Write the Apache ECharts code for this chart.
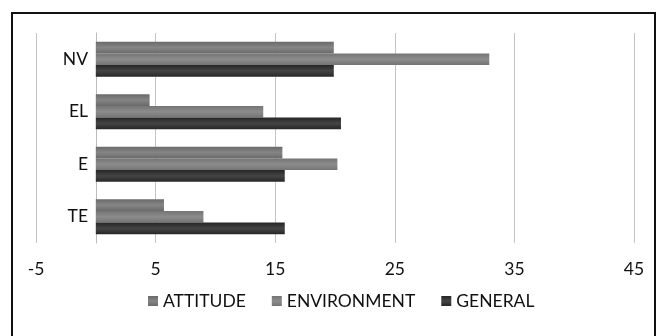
<!DOCTYPE html>
<html>
<head>
<meta charset="utf-8">
<script src="https://cdn.jsdelivr.net/npm/echarts@6/dist/echarts.min.js"></script>
<style>
  html, body { margin: 0; padding: 0; background: #fff; }
  #frame { position: absolute; left: 11px; top: 12px; width: 645px; height: 340px; border: 2px solid #111; box-sizing: border-box; }
  #main { position: absolute; left: 0; top: 0; width: 661px; height: 336px; }
</style>
</head>
<body>
<div id="frame"></div>
<div id="main"></div>
<script>
// categories bottom -> top
var categories = ['TE', 'E', 'EL', 'NV']
var attitude = [5.7, 15.6, 4.5, 19.9]
var environment = [9.0, 20.2, 14.0, 32.9]
var general = [15.8, 15.8, 20.5, 19.9]
var xTicks = [-5, 5, 15, 25, 35, 45]

var chart = echarts.init(document.getElementById('main'))

// 立体感的渐变
function shade(edge, mid) {
  return new echarts.graphic.LinearGradient(0, 0, 0, 1, [
    { offset: 0, color: edge },
    { offset: 0.5, color: mid },
    { offset: 1, color: edge }
  ])
}

var font = 'Lato, "Open Sans", sans-serif'

chart.setOption({
  backgroundColor: 'transparent',
  animation: false,
  grid: { left: 36, right: 27, top: 33, bottom: 93, containLabel: false },
  legend: {
    bottom: 21,
    left: 143,
    itemWidth: 10,
    itemHeight: 10,
    itemGap: 26,
    icon: 'rect',
    textStyle: { fontFamily: font, fontSize: 17.5, color: '#111' },
    data: ['ATTITUDE', 'ENVIRONMENT', 'GENERAL']
  },
  xAxis: {
    type: 'value',
    min: xTicks[0],
    max: xTicks[xTicks.length - 1],
    interval: 10,
    axisLine: { show: false },
    axisTick: { show: false },
    splitLine: { lineStyle: { color: '#c4c4c4', width: 1 } },
    axisLabel: { margin: 17, fontFamily: font, fontSize: 17.5, color: '#111' }
  },
  yAxis: {
    type: 'category',
    data: categories,
    axisLine: { show: true, onZero: true, lineStyle: { color: '#bcbcbc' } },
    axisTick: { show: false },
    axisLabel: { margin: -52, fontFamily: font, fontSize: 17.5, color: '#111' }
  },
  series: [
    {
      name: 'ATTITUDE', type: 'bar', data: attitude,
      barWidth: 11.7, barGap: '0%',
      itemStyle: { color: shade('#6a6a6a', '#858585') }
    },
    {
      name: 'ENVIRONMENT', type: 'bar', data: environment,
      barWidth: 11.7, barGap: '0%',
      itemStyle: { color: shade('#747474', '#8c8c8c') }
    },
    {
      name: 'GENERAL', type: 'bar', data: general,
      barWidth: 11.7, barGap: '0%',
      itemStyle: { color: shade('#262626', '#454545') }
    }
  ]
})
</script>
</body>
</html>
